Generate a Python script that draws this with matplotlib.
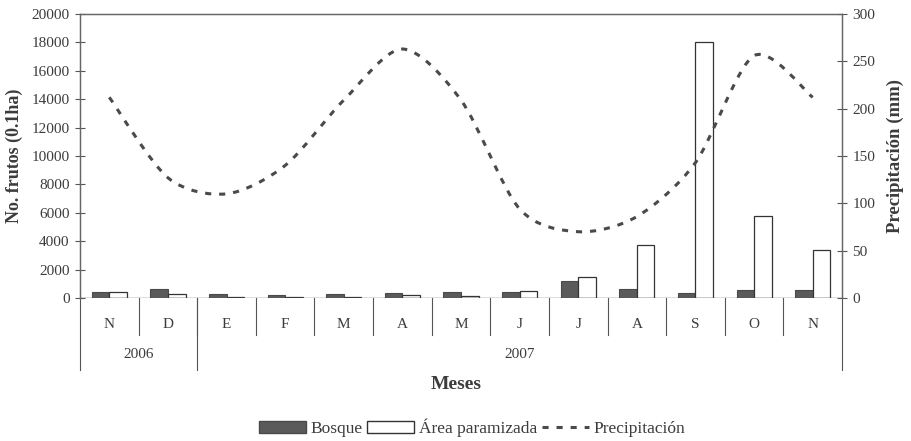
import matplotlib
matplotlib.use("Agg")
import matplotlib.pyplot as plt
import matplotlib.transforms as mtransforms
from matplotlib.path import Path
from matplotlib.patches import PathPatch, Patch
from matplotlib.lines import Line2D
import numpy as np

plt.rcParams['font.family'] = ['Liberation Serif', 'DejaVu Serif']

# Data
months = ['N', 'D', 'E', 'F', 'M', 'A', 'M', 'J', 'J', 'A', 'S', 'O', 'N']
years = ['2006', '2007']
year_spans = [(0, 2), (2, 13)]
bosque = [450, 650, 300, 200, 250, 350, 450, 450, 1200, 600, 350, 550, 550]
paramo = [400, 250, 100, 80, 80, 200, 150, 500, 1500, 3700, 18000, 5800, 3400]
precip = [212, 127, 110, 140, 209, 263, 209, 94, 70, 86, 143, 256, 212]

txt = '#3c3c3c'
fig = plt.figure(figsize=(9.11, 4.41), dpi=100)
ax = fig.add_axes([0.0878, 0.3243, 0.8365, 0.644])
ax2 = ax.twinx()

x = np.arange(len(months))
w = 0.3
ax.bar(x - w / 2, bosque, w, color='#5a5a5a', edgecolor='#4a4a4a', linewidth=0.8, zorder=3)
ax.bar(x + w / 2, paramo, w, color='white', edgecolor='#333333', linewidth=0.9, zorder=3)

# smoothed precipitation curve (Excel style bezier through the points)
pts = np.column_stack([x, precip]).astype(float)
verts = [pts[0]]
codes = [Path.MOVETO]
n = len(pts)
for i in range(n - 1):
    p0 = pts[i - 1] if i > 0 else pts[i]
    p3 = pts[i + 2] if i + 2 < n else pts[i + 1]
    c1 = pts[i] + (pts[i + 1] - p0) / 7
    c2 = pts[i + 1] - (p3 - pts[i]) / 7
    verts += [c1, c2, pts[i + 1]]
    codes += [Path.CURVE4] * 3
curve = PathPatch(Path(verts, codes), fill=False, edgecolor='#4a4a4a',
                  linewidth=2.2, linestyle=(0, (2.0, 2.6)), zorder=4)
ax2.add_patch(curve)

ax.set_xlim(-0.5, len(months) - 0.5)
ax.set_ylim(0, 20000)
ax2.set_ylim(0, 300)
ax.set_yticks(range(0, 20001, 2000))
ax2.set_yticks(range(0, 301, 50))
ax.set_xticks([])

for a in (ax, ax2):
    a.tick_params(axis='y', direction='inout', length=7, width=0.8, colors='#555555',
                  labelcolor=txt, labelsize=11, pad=4)
    for s in a.spines.values():
        s.set_color('#666666')
        s.set_linewidth(0.9)
ax.spines['bottom'].set_visible(False)
ax2.spines['bottom'].set_visible(False)
ax.axhline(0, color='#555555', linewidth=1.0, zorder=5)

ax.set_ylabel('No. frutos (0.1ha)', fontsize=13, fontweight='bold', color=txt, labelpad=6)
ax2.set_ylabel('Precipitación (mm)', fontsize=13.5, fontweight='bold', color=txt, labelpad=8)

# category axis below the plot
trans = mtransforms.blended_transform_factory(ax.transData, ax.transAxes)
for k in range(1, len(months)):
    ax.plot([k - 0.5, k - 0.5], [0, -0.13], transform=trans, color='#555555',
            linewidth=0.8, clip_on=False)
for k in [0, 2, len(months)]:
    ax.plot([k - 0.5, k - 0.5], [0, -0.255], transform=trans, color='#555555',
            linewidth=0.8, clip_on=False)
for k, m in enumerate(months):
    ax.text(k, -0.095, m, transform=trans, ha='center', va='center', fontsize=11, color=txt)
for yr, (a0, a1) in zip(years, year_spans):
    ax.text((a0 + a1 - 1) / 2, -0.2, yr, transform=trans, ha='center', va='center',
            fontsize=11, color=txt)
ax.text(0.494, -0.305, 'Meses', transform=ax.transAxes, ha='center', va='center',
        fontsize=14, fontweight='bold', color=txt)

handles = [Patch(facecolor='#5a5a5a', edgecolor='#4a4a4a'),
           Patch(facecolor='white', edgecolor='#333333'),
           Line2D([], [], color='#4a4a4a', linewidth=2.2, linestyle=(0, (2.0, 2.6)))]
fig.legend(handles, ['Bosque', 'Área paramizada', 'Precipitación'], loc='center',
           bbox_to_anchor=(0.518, 0.03), ncol=3, frameon=False, fontsize=12.5,
           handlelength=2.7, handleheight=0.7, columnspacing=0.3, handletextpad=0.25,
           labelcolor=txt)

fig.savefig('out.png', dpi=100)
